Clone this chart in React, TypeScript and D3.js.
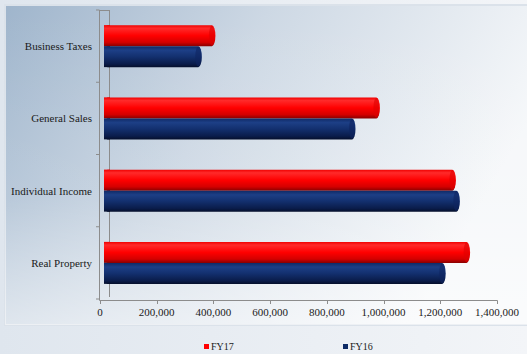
import React from "react";
import * as d3 from "d3";

const categories = ["Business Taxes", "General Sales", "Individual Income", "Real Property"];
const seriesNames = ["FY17", "FY16"];
const fy17 = [400000, 980000, 1248000, 1298000];
const fy16 = [352000, 894000, 1262000, 1212000];
const xTicks = [0, 200000, 400000, 600000, 800000, 1000000, 1200000, 1400000];

const W = 527;
const H = 354;
const FONT = "Liberation Serif";

export default function App() {
  const x = d3.scaleLinear().domain([0, 1400000]).range([100, 497]);
  const y0 = d3.scaleBand<string>().domain(categories).range([10, 299]).padding(0);
  const step = y0.step();
  const groupH = 42;
  const y1 = d3.scaleBand<string>().domain(seriesNames).range([0, groupH]).padding(0);
  const fmt = d3.format(",");
  const values: Record<string, number[]> = { FY17: fy17, FY16: fy16 };
  const fills: Record<string, string> = { FY17: "url(#gRed)", FY16: "url(#gBlue)" };
  const legendColors: Record<string, string> = { FY17: "#ff0000", FY16: "#0d2a66" };
  const boundaries = d3.range(categories.length + 1).map((i) => 10 + i * step);

  return (
    <svg width={W} height={H} style={{ position: "absolute", left: 0, top: 0 }}>
      <defs>
        <linearGradient id="bgOuter" x1="0" y1="0" x2="1" y2="0">
          <stop offset="0" stopColor="#dfe6ee" />
          <stop offset="1" stopColor="#f3f5f8" />
        </linearGradient>
        <linearGradient id="bgPanel" x1="0" y1="0" x2="1" y2="0.35">
          <stop offset="0" stopColor="#9fb5cc" />
          <stop offset="0.45" stopColor="#cdd8e4" />
          <stop offset="1" stopColor="#f6f8fa" />
        </linearGradient>
        <linearGradient id="bgFade" x1="0" y1="0" x2="0" y2="1">
          <stop offset="0" stopColor="#ffffff" stopOpacity="0" />
          <stop offset="0.6" stopColor="#ffffff" stopOpacity="0.08" />
          <stop offset="1" stopColor="#ffffff" stopOpacity="0.5" />
        </linearGradient>
        <linearGradient id="gRed" x1="0" y1="0" x2="0" y2="1">
          <stop offset="0" stopColor="#f00000" />
          <stop offset="0.15" stopColor="#ff2a2a" />
          <stop offset="0.5" stopColor="#ff0000" />
          <stop offset="0.82" stopColor="#d40000" />
          <stop offset="1" stopColor="#8a0000" />
        </linearGradient>
        <linearGradient id="gBlue" x1="0" y1="0" x2="0" y2="1">
          <stop offset="0" stopColor="#0f2a66" />
          <stop offset="0.2" stopColor="#1d3f86" />
          <stop offset="0.5" stopColor="#13306f" />
          <stop offset="0.85" stopColor="#0a1c4a" />
          <stop offset="1" stopColor="#050f2c" />
        </linearGradient>
      </defs>
      <rect x={0} y={0} width={W} height={H} fill="url(#bgOuter)" />
      <rect x={5} y={5} width={W} height={320} fill="url(#bgPanel)" stroke="#dbe2ea" strokeWidth={2} />
      <rect x={5} y={5} width={W} height={320} fill="url(#bgFade)" />

      {/* 3D wall */}
      <g stroke="#8c8c8c" strokeWidth={1} fill="none">
        <line x1={99.5} y1={10} x2={99.5} y2={300.5} />
        <line x1={109.5} y1={10} x2={109.5} y2={297} />
        <line x1={99.5} y1={10.5} x2={109.5} y2={10.5} />
        <line x1={99.5} y1={300.5} x2={497.5} y2={300.5} />
        {boundaries.map((b, i) => (
          <line key={"lt" + i} x1={96} y1={b} x2={99.5} y2={b} />
        ))}
        {xTicks.map((t) => (
          <line key={"bt" + t} x1={Math.round(x(t)) + 0.5} y1={300.5} x2={Math.round(x(t)) + 0.5} y2={304} />
        ))}
      </g>

      {/* bars */}
      {categories.map((c, i) => {
        const gy = (y0(c) as number) + (step - groupH) / 2;
        return (
          <g key={c}>
            {seriesNames.map((s) => {
              const by = gy + (y1(s) as number);
              const bh = y1.bandwidth();
              const x0 = x(0) + 4;
              const x1v = x(values[s][i]) + 2;
              return (
                <g key={s}>
                  <rect x={x0} y={by} width={x1v - x0} height={bh} rx={3.5} ry={bh / 2} fill={fills[s]} />
                  <rect x={x0} y={by} width={6} height={bh} fill={fills[s]} />
                  <ellipse cx={x1v - 3.5} cy={by + bh / 2} rx={3} ry={bh / 2 - 0.5} fill={s === "FY17" ? "#e00000" : "#0f2560"} opacity={0.6} />
                </g>
              );
            })}
          </g>
        );
      })}

      {/* category labels */}
      {categories.map((c) => (
        <text key={"l" + c} x={92} y={(y0(c) as number) + step / 2 + 4} textAnchor="end" fontSize={11} fill="#1a1a1a" fontFamily={FONT}>
          {c}
        </text>
      ))}

      {/* x tick labels */}
      {xTicks.map((t) => (
        <text key={"xl" + t} x={x(t)} y={316} textAnchor="middle" fontSize={11} fill="#1a1a1a" fontFamily={FONT}>
          {fmt(t)}
        </text>
      ))}

      {/* legend */}
      {seriesNames.map((s, i) => {
        const lx = i === 0 ? 204 : 343;
        return (
          <g key={"lg" + s}>
            <rect x={lx} y={344} width={5} height={5} fill={legendColors[s]} />
            <text x={lx + 7} y={349.5} fontSize={10} fill="#1a1a1a" fontFamily={FONT}>
              {s}
            </text>
          </g>
        );
      })}
    </svg>
  );
}
